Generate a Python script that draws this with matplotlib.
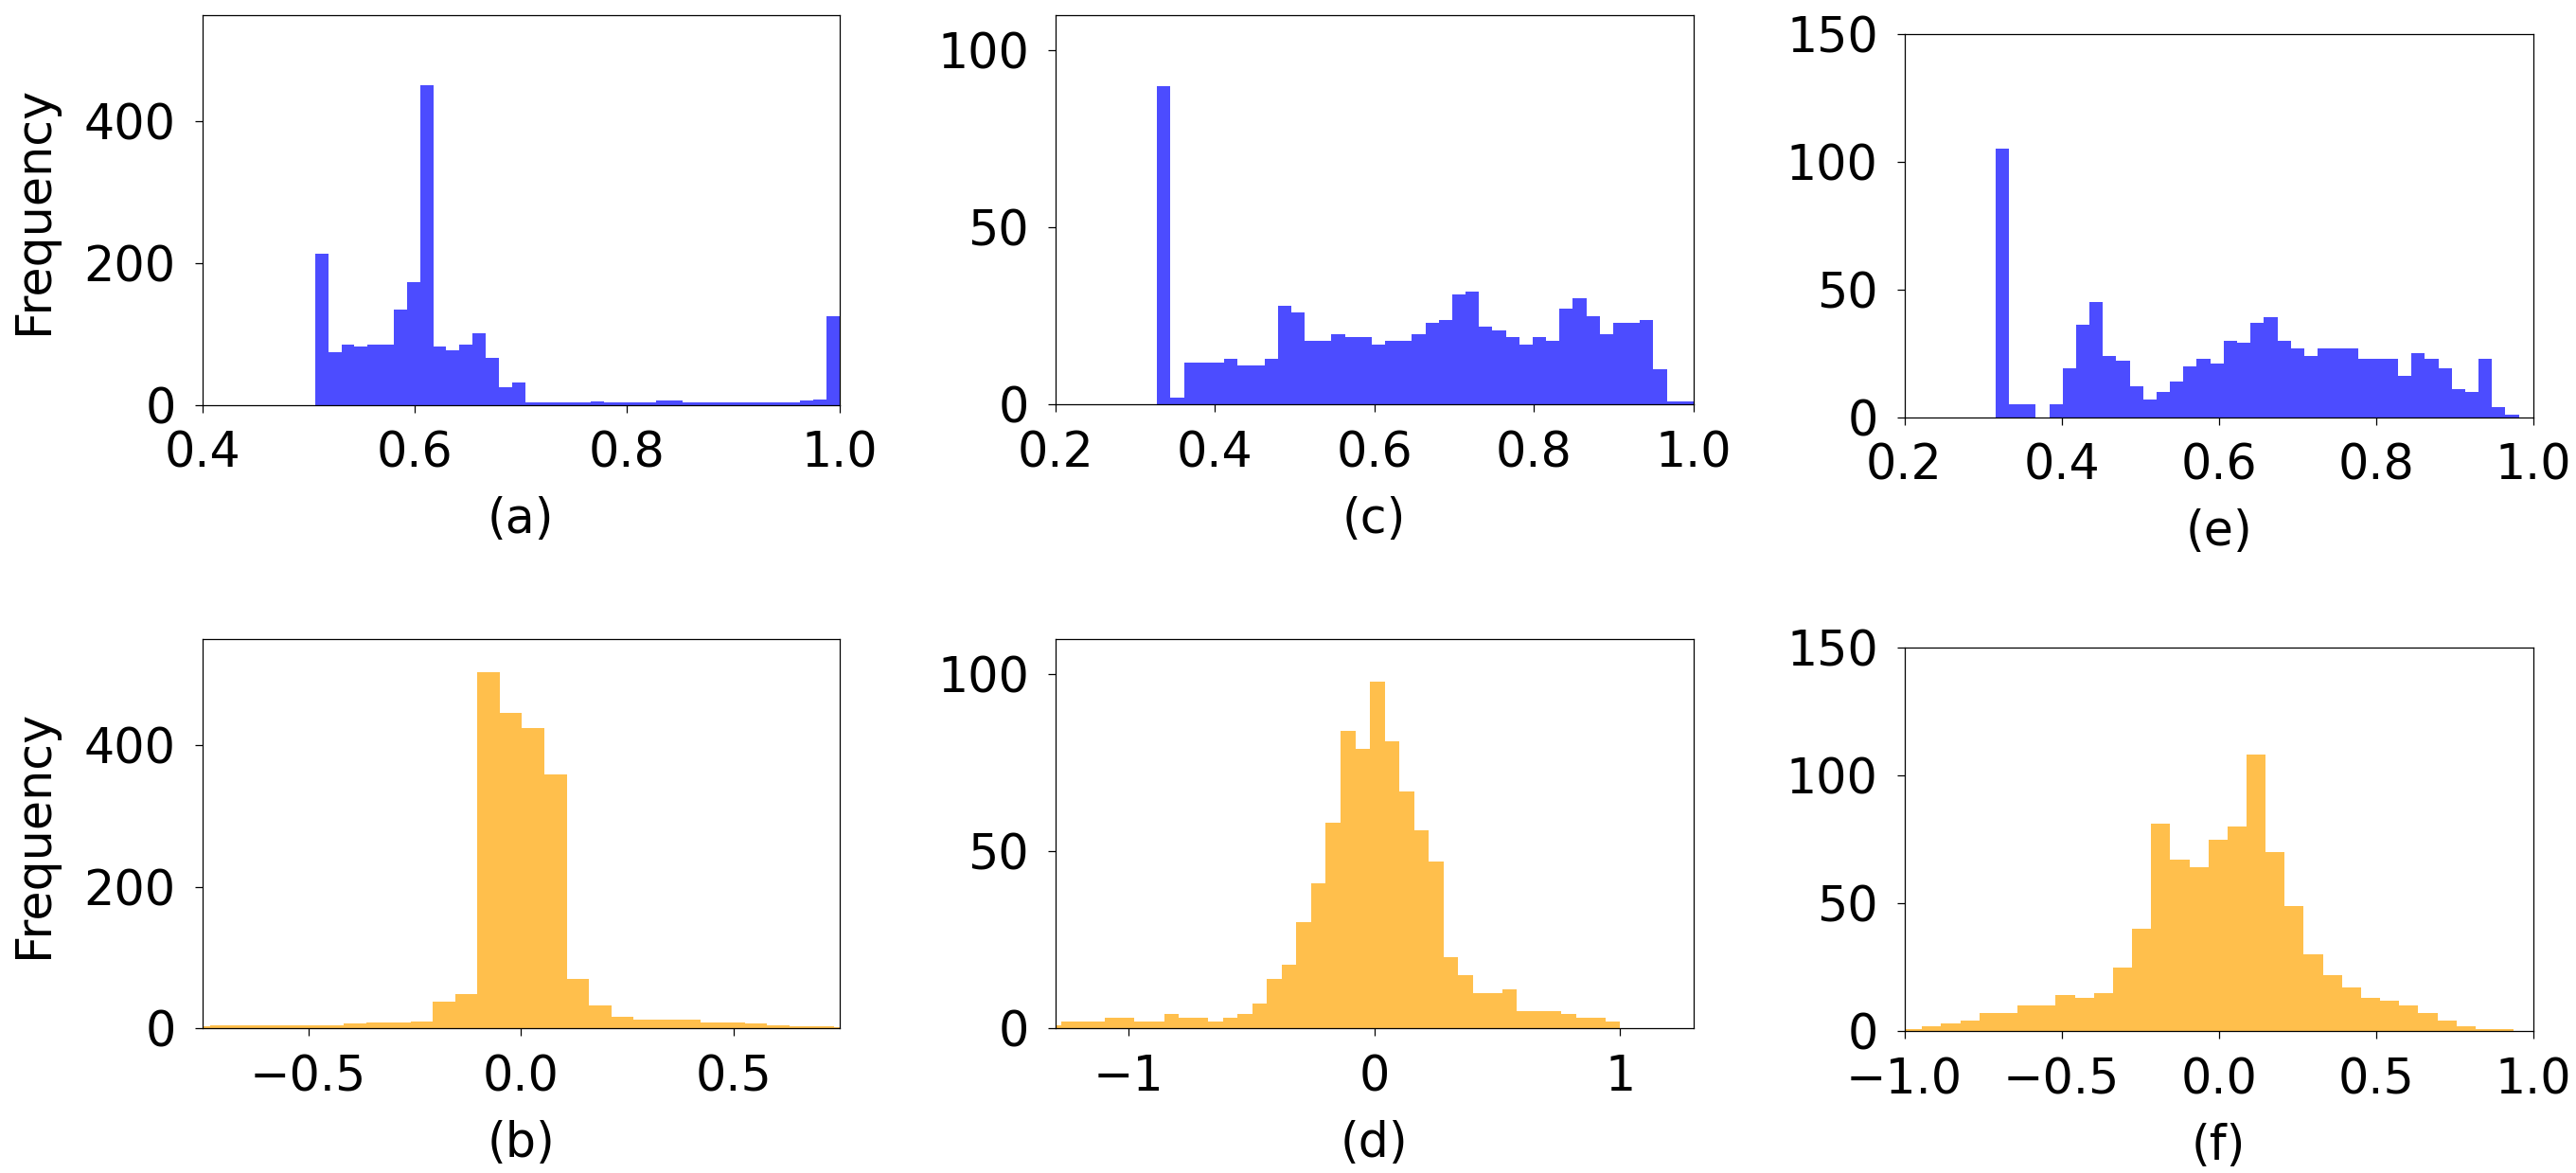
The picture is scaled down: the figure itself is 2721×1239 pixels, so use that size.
import numpy as np
import matplotlib
matplotlib.use("Agg")
import matplotlib.pyplot as plt

# ---------------- data (histogram counts) ----------------
# (a) similarity-like values
a_range = (0.5064, 1.0)
a_counts = [213, 75, 85, 83, 85, 85, 134, 173, 451, 82, 77, 85, 101, 66, 25, 31,
            3, 3, 3, 3, 3, 5, 3, 4, 4, 4, 6, 6, 4, 4, 4, 4, 4, 4, 4, 4, 4, 6, 7, 125]
# (c)
c_range = (0.3277, 1.0)
c_counts = [90, 2, 12, 12, 12, 13, 11, 11, 13, 28, 26, 18, 18, 20, 19, 19, 17, 18, 18, 20,
            23, 24, 31, 32, 22, 21, 19, 17, 19, 18, 27, 30, 25, 20, 23, 23, 24, 10, 1, 1]
# (e)
e_range = (0.3161, 0.9817)
e_counts = [105, 5, 5, 0, 5, 19, 36, 45, 24, 22, 12, 7, 10, 14, 20, 23, 21, 30, 29, 37,
            39, 30, 27, 24, 27, 27, 27, 23, 23, 23, 16, 25, 23, 19, 11, 10, 23, 4, 1]
# (b)
b_range = (-0.784, 0.7895)
b_counts = [3, 4, 4, 4, 4, 4, 4, 7, 8, 9, 10, 38, 49, 503, 446, 424, 358, 70, 33, 17,
            13, 12, 12, 9, 9, 7, 4, 3, 3, 2]
# (d)
d_range = (-1.336, 1.0)
d_counts = [1, 2, 2, 2, 3, 3, 2, 2, 4, 3, 3, 2, 3, 4, 7, 14, 18, 30, 41, 58, 84, 79, 98,
            81, 67, 56, 47, 20, 15, 10, 10, 11, 5, 5, 5, 4, 3, 3, 2]
# (f)
f_range = (-1.004, 0.938)
f_counts = [1, 2, 3, 4, 7, 7, 10, 10, 14, 13, 15, 25, 40, 81, 67, 64, 75, 80, 108, 70,
            49, 30, 22, 17, 13, 12, 10, 7, 4, 2, 1, 1]

panel_labels = ["(a)", "(c)", "(e)", "(b)", "(d)", "(f)"]
xlims = [(0.4, 1.0), (0.2, 1.0), (0.2, 1.0), (-0.75, 0.75), (-1.3, 1.3), (-1.0, 1.0)]
ylims = [(0, 550), (0, 110), (0, 150), (0, 550), (0, 110), (0, 150)]
xticks = [[0.4, 0.6, 0.8, 1.0], [0.2, 0.4, 0.6, 0.8, 1.0], [0.2, 0.4, 0.6, 0.8, 1.0],
          [-0.5, 0.0, 0.5], [-1, 0, 1], [-1.0, -0.5, 0.0, 0.5, 1.0]]
yticks = [[0, 200, 400], [0, 50, 100], [0, 50, 100, 150],
          [0, 200, 400], [0, 50, 100], [0, 50, 100, 150]]

# ---------------- style ----------------
W, H = 2721, 1239
plt.rcParams.update({
    "font.family": ["DejaVu Sans"],
    "font.size": 36.5,
    "axes.linewidth": 0.9,
    "xtick.major.size": 6,
    "ytick.major.size": 6,
    "xtick.major.width": 0.9,
    "ytick.major.width": 0.9,
    "xtick.major.pad": 13.5,
    "ytick.major.pad": 14,
})

fig = plt.figure(figsize=(W / 100, H / 100), dpi=100)

# axes boxes in pixels: (left, right, top, bottom)
boxes = [
    (213.5, 886.9, 15.7, 427.7),
    (1114.6, 1789.0, 15.7, 427.5),
    (2011.5, 2675.8, 35.7, 440.7),
    (213.5, 886.9, 674.7, 1086.3),
    (1114.6, 1789.0, 674.7, 1086.3),
    (2011.5, 2675.8, 683.7, 1089.3),
]

datasets = [
    (a_range, a_counts, "blue"),
    (c_range, c_counts, "blue"),
    (e_range, e_counts, "blue"),
    (b_range, b_counts, "orange"),
    (d_range, d_counts, "orange"),
    (f_range, f_counts, "orange"),
]

for i, ((rng, counts, col), box) in enumerate(zip(datasets, boxes)):
    l, r, t, b = box
    ax = fig.add_axes([l / W, 1 - b / H, (r - l) / W, (b - t) / H])
    counts = np.asarray(counts, dtype=float)
    edges = np.linspace(rng[0], rng[1], len(counts) + 1)
    ax.hist(edges[:-1], bins=edges, weights=counts, color=col, alpha=0.7)
    ax.set_xlim(*xlims[i])
    ax.set_ylim(*ylims[i])
    ax.set_xticks(xticks[i])
    ax.set_yticks(yticks[i])
    ax.set_xlabel(panel_labels[i])
    hpx = b - t
    ax.xaxis.set_label_coords(0.5, -(524 - 427.7) / hpx)
    if i in (0, 3):
        ax.set_ylabel("Frequency")
        ax.yaxis.set_label_coords(-(213.5 - 61) / (r - l), 0.5)

fig.savefig("out.png", dpi=100)
